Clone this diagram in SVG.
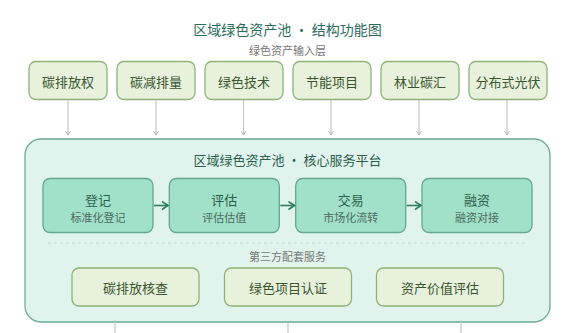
<svg xmlns="http://www.w3.org/2000/svg" width="565" height="333" viewBox="0 0 565 333">
  <defs>
    <marker id="ag" markerWidth="6" markerHeight="6" refX="5" refY="3" orient="auto" markerUnits="userSpaceOnUse">
      <path d="M1,0.5 L5,3 L1,5.5" fill="none" stroke="#b5b5b5" stroke-width="1"/>
    </marker>
    <marker id="at" markerWidth="10" markerHeight="10" refX="8" refY="5" orient="auto" markerUnits="userSpaceOnUse">
      <path d="M2,1 L8,5 L2,9" fill="none" stroke="#2e7d60" stroke-width="1.6"/>
    </marker>
  </defs>
  <style>
    text { font-family: "Noto Sans CJK SC", "Noto Sans", sans-serif; text-anchor: middle; dominant-baseline: central; }
    .title { font-size: 14px; fill: #2a6b5b; }
    .label { font-size: 11px; fill: #777; }
    .in rect { fill: #e7f1dc; stroke: #8db374; stroke-width: 1.3; }
    .in text { font-size: 13px; fill: #3b5530; }
    .core rect { fill: #a1e0c9; stroke: #62a890; stroke-width: 1.3; }
    .core .t { font-size: 13px; fill: #2b5f4c; }
    .core .s { font-size: 11px; fill: #4d6b60; }
    .svc rect { fill: #e8f1dc; stroke: #8db374; stroke-width: 1.3; }
    .svc text { font-size: 13px; fill: #3b5530; }
    .gl { stroke: #c4c4c4; stroke-width: 1.2; fill: none; }
    .tl { stroke: #2e7d60; stroke-width: 1.6; fill: none; }
  </style>
  <rect width="565" height="333" fill="#ffffff"/>

  <text class="title" x="287.5" y="29">区域绿色资产池 · 结构功能图</text>
  <text class="label" x="287.5" y="50">绿色资产输入层</text>

  <g id="platform">
    <rect x="25" y="139" width="525" height="183" rx="16" fill="#e1f3ed" stroke="#6bab97" stroke-width="1.3"/>
    <text x="287.5" y="159" style="font-size:13px;fill:#2b5f4c">区域绿色资产池 · 核心服务平台</text>
    <line x1="48" y1="243" x2="527" y2="243" stroke="#c5d8d0" stroke-width="1" stroke-dasharray="3,3"/>
    <text class="label" x="287.5" y="256">第三方配套服务</text>
  </g>

  <g id="in1" class="in"><rect x="29" y="61.5" width="78" height="38" rx="7"/><text x="68" y="81">碳排放权</text></g>
  <g id="in2" class="in"><rect x="117" y="61.5" width="78" height="38" rx="7"/><text x="156" y="81">碳减排量</text></g>
  <g id="in3" class="in"><rect x="205" y="61.5" width="78" height="38" rx="7"/><text x="244" y="81">绿色技术</text></g>
  <g id="in4" class="in"><rect x="293" y="61.5" width="78" height="38" rx="7"/><text x="332" y="81">节能项目</text></g>
  <g id="in5" class="in"><rect x="381" y="61.5" width="78" height="38" rx="7"/><text x="420" y="81">林业碳汇</text></g>
  <g id="in6" class="in"><rect x="469" y="61.5" width="78" height="38" rx="7"/><text x="508" y="81">分布式光伏</text></g>

  <g id="c1" class="core"><rect x="43" y="178.5" width="110" height="54" rx="7"/><text class="t" x="98" y="199">登记</text><text class="s" x="98" y="217">标准化登记</text></g>
  <g id="c2" class="core"><rect x="169.3" y="178.5" width="110" height="54" rx="7"/><text class="t" x="224.3" y="199">评估</text><text class="s" x="224.3" y="217">评估估值</text></g>
  <g id="c3" class="core"><rect x="295.7" y="178.5" width="110" height="54" rx="7"/><text class="t" x="350.7" y="199">交易</text><text class="s" x="350.7" y="217">市场化流转</text></g>
  <g id="c4" class="core"><rect x="422" y="178.5" width="110" height="54" rx="7"/><text class="t" x="477" y="199">融资</text><text class="s" x="477" y="217">融资对接</text></g>

  <g id="s1" class="svc"><rect x="72" y="268" width="127" height="38" rx="7"/><text x="135.5" y="287">碳排放核查</text></g>
  <g id="s2" class="svc"><rect x="224.5" y="268" width="127" height="38" rx="7"/><text x="288" y="287">绿色项目认证</text></g>
  <g id="s3" class="svc"><rect x="376.5" y="268" width="127" height="38" rx="7"/><text x="440" y="287">资产价值评估</text></g>

  <g id="connectors">
    <line class="gl" x1="68" y1="100" x2="68" y2="135" marker-end="url(#ag)"/>
    <line class="gl" x1="156" y1="100" x2="156" y2="135" marker-end="url(#ag)"/>
    <line class="gl" x1="243.5" y1="100" x2="243.5" y2="135" marker-end="url(#ag)"/>
    <line class="gl" x1="331" y1="100" x2="331" y2="135" marker-end="url(#ag)"/>
    <line class="gl" x1="419" y1="100" x2="419" y2="135" marker-end="url(#ag)"/>
    <line class="gl" x1="507" y1="100" x2="507" y2="135" marker-end="url(#ag)"/>
    <line class="tl" x1="154" y1="205.5" x2="168" y2="205.5" marker-end="url(#at)"/>
    <line class="tl" x1="280.3" y1="205.5" x2="294.5" y2="205.5" marker-end="url(#at)"/>
    <line class="tl" x1="406.7" y1="205.5" x2="421" y2="205.5" marker-end="url(#at)"/>
    <line class="gl" x1="115" y1="322" x2="115" y2="340"/>
    <line class="gl" x1="288" y1="322" x2="288" y2="340"/>
    <line class="gl" x1="461" y1="322" x2="461" y2="340"/>
  </g>
</svg>
